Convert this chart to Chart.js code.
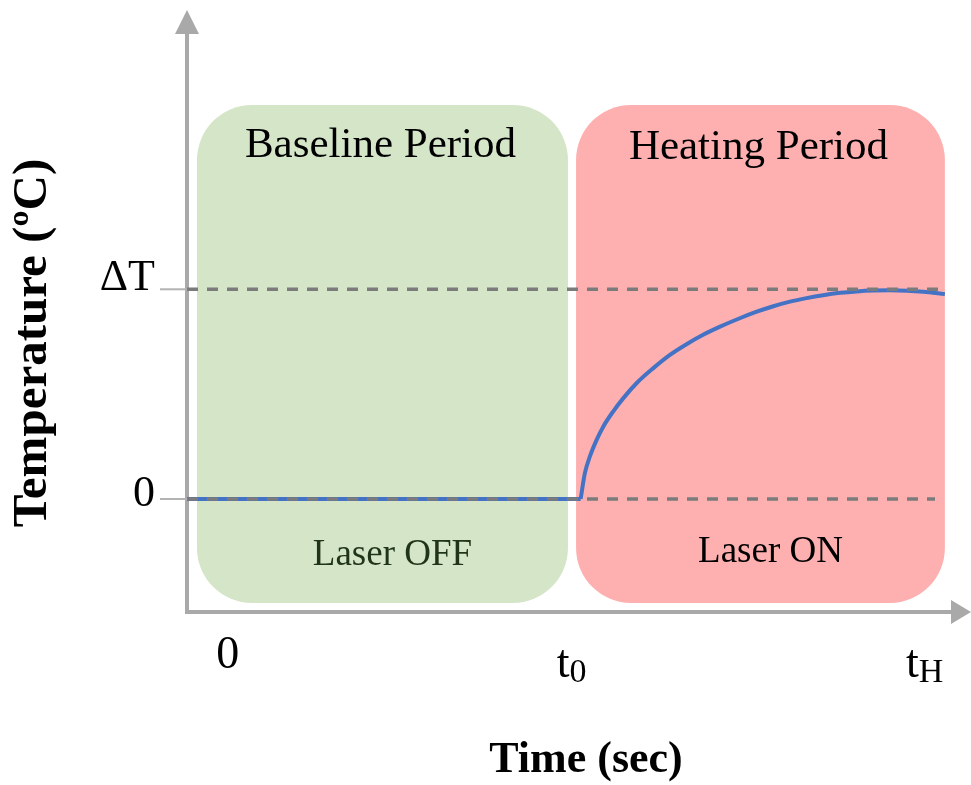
<!DOCTYPE html>
<html>
<head>
<meta charset="utf-8">
<script src="https://cdn.jsdelivr.net/npm/chart.js@4/dist/chart.umd.min.js"></script>
<style>
  body { margin: 0; background: #fff; }
  canvas { display: block; }
</style>
</head>
<body>
<canvas id="chart" width="971" height="785"></canvas>
<script>
'use strict';

// time axis is schematic: 0, t0 = 10, tH = 20
const xTickValues = [0, 10, 20];
const xTickMain = ['0', 't', 't'];
const xTickSub = ['', '0', 'H'];
const yTickValues = [0, 1];
const yTickLabels = ['0', '\u0394T'];

// flat temperature while the laser is off
const baselineTime = [-1.153, 10];
const baselineTemp = [0, 0];
// rise once the laser is on
const heatingTime = [10, 10.12, 10.26, 10.45, 10.64, 10.92, 11.21, 11.59, 12.06, 12.53, 13.00, 13.47, 13.95,
    14.51, 14.99, 15.46, 15.93, 16.40, 16.87, 17.35, 17.82, 18.29, 18.76, 19.24, 19.71, 20.32];
const heatingTemp = [0, 0.123, 0.202, 0.281, 0.345, 0.417, 0.481, 0.553, 0.624, 0.687, 0.738, 0.783, 0.822,
    0.862, 0.893, 0.919, 0.941, 0.958, 0.972, 0.983, 0.990, 0.994, 0.995, 0.993, 0.988, 0.977];

// reference levels (dashed)
const refLevels = [0, 1];
const refEnds = [20.04, 20.32];

const periodNames = ['Baseline Period', 'Heating Period'];
const periodNotes = ['Laser OFF', 'Laser ON'];
const periodFrom = [-0.87, 9.87];
const periodTo = [9.64, 20.32];

function toPoints(xs, ys) {
    return xs.map((x, i) => ({ x: x, y: ys[i] }));
}

const SERIF = '"Liberation Serif", "DejaVu Serif", serif';

const schematicPlugin = {
    id: 'schematic',
    beforeDatasetsDraw(chart) {
        const ctx = chart.ctx;
        const xs = chart.scales.x, ys = chart.scales.y;
        const area = chart.chartArea;
        const fills = ['#d5e5c7', '#feb0b0'];
        ctx.save();
        // period boxes
        periodFrom.forEach((from, i) => {
            const x1 = xs.getPixelForValue(from);
            const x2 = xs.getPixelForValue(periodTo[i]);
            const y1 = ys.getPixelForValue(1.879);
            const y2 = ys.getPixelForValue(-0.496);
            ctx.fillStyle = fills[i];
            ctx.beginPath();
            ctx.roundRect(x1, y1, x2 - x1, y2 - y1, 55);
            ctx.fill();
        });
        // axes with arrow heads
        ctx.strokeStyle = '#a9a9a9';
        ctx.fillStyle = '#a9a9a9';
        ctx.lineWidth = 4;
        ctx.beginPath();
        ctx.moveTo(area.left, area.top + 22);
        ctx.lineTo(area.left, area.bottom);
        ctx.lineTo(area.right - 18, area.bottom);
        ctx.stroke();
        ctx.beginPath();
        ctx.moveTo(area.left, area.top);
        ctx.lineTo(area.left - 12, area.top + 24);
        ctx.lineTo(area.left + 12, area.top + 24);
        ctx.closePath();
        ctx.fill();
        ctx.beginPath();
        ctx.moveTo(area.right, area.bottom);
        ctx.lineTo(area.right - 20, area.bottom - 12);
        ctx.lineTo(area.right - 20, area.bottom + 12);
        ctx.closePath();
        ctx.fill();
        // small tick marks on the y axis
        ctx.lineWidth = 2;
        ctx.strokeStyle = '#b3b3b3';
        yTickValues.forEach(v => {
            const y = ys.getPixelForValue(v);
            ctx.beginPath();
            ctx.moveTo(area.left - 27, y);
            ctx.lineTo(area.left, y);
            ctx.stroke();
        });
        ctx.restore();
    },
    afterDraw(chart) {
        const ctx = chart.ctx;
        const xs = chart.scales.x, ys = chart.scales.y;
        const area = chart.chartArea;
        ctx.save();
        ctx.textAlign = 'center';
        ctx.textBaseline = 'alphabetic';
        // period titles and notes
        periodNames.forEach((name, i) => {
            const cx = (xs.getPixelForValue(periodFrom[i]) + xs.getPixelForValue(periodTo[i])) / 2;
            ctx.fillStyle = '#000';
            ctx.font = '43px ' + SERIF;
            ctx.fillText(name, cx - 2, 157 + i * 2);
            ctx.fillStyle = i === 0 ? '#1f3419' : '#000';
            ctx.font = '37px ' + SERIF;
            ctx.fillText(periodNotes[i], cx + 10, 565 - i * 3);
        });
        // y tick labels
        ctx.fillStyle = '#000';
        ctx.textAlign = 'right';
        ctx.font = '44px ' + SERIF;
        yTickValues.forEach((v, i) => {
            const y = ys.getPixelForValue(v);
            ctx.fillText(yTickLabels[i], area.left - 32, y + (v === 0 ? 7 : 1));
        });
        // x tick labels with subscripts
        ctx.textAlign = 'left';
        xTickValues.forEach((v, i) => {
            const px = xs.getPixelForValue(v);
            ctx.font = '46px ' + SERIF;
            const wMain = ctx.measureText(xTickMain[i]).width;
            ctx.font = '34px ' + SERIF;
            const wSub = ctx.measureText(xTickSub[i]).width;
            const left = xTickSub[i] ? px - 9 - (wMain + wSub) / 2 : px - wMain / 2;
            ctx.font = '46px ' + SERIF;
            ctx.fillText(xTickMain[i], left, xTickSub[i] ? 677 : 668);
            if (xTickSub[i]) {
                ctx.font = '34px ' + SERIF;
                ctx.fillText(xTickSub[i], left + wMain, 682);
            }
        });
        // axis titles
        ctx.textAlign = 'center';
        ctx.font = 'bold 44px ' + SERIF;
        ctx.fillText('Time (sec)', 586, 772);
        ctx.font = 'bold 49px ' + SERIF;
        ctx.translate(46, 343);
        ctx.rotate(-Math.PI / 2);
        ctx.fillText('Temperature (\u00baC)', 0, 0);
        ctx.restore();
    }
};

new Chart(document.getElementById('chart'), {
    type: 'line',
    data: {
        datasets: [
            {
                label: 'Reference 0',
                data: [{ x: baselineTime[0], y: refLevels[0] }, { x: refEnds[0], y: refLevels[0] }],
                borderColor: '#7b7b7b',
                borderWidth: 3.5,
                borderDash: [11, 9],
                pointRadius: 0,
                order: 0
            },
            {
                label: 'Reference \u0394T',
                data: [{ x: baselineTime[0], y: refLevels[1] }, { x: refEnds[1], y: refLevels[1] }],
                borderColor: '#7b7b7b',
                borderWidth: 3.5,
                borderDash: [11, 9],
                pointRadius: 0,
                order: 0
            },
            {
                label: 'Baseline',
                data: toPoints(baselineTime, baselineTemp),
                borderColor: '#4472c4',
                borderWidth: 4,
                pointRadius: 0,
                order: 1
            },
            {
                label: 'Heating',
                data: toPoints(heatingTime, heatingTemp),
                borderColor: '#4472c4',
                borderWidth: 4,
                pointRadius: 0,
                cubicInterpolationMode: 'monotone',
                order: 1
            }
        ]
    },
    options: {
        responsive: false,
        devicePixelRatio: 1,
        animation: false,
        layout: { padding: { left: 187, right: 0, top: 10, bottom: 173 } },
        plugins: { legend: { display: false }, tooltip: { enabled: false } },
        scales: {
            x: { type: 'linear', min: -1.153, max: 21.06, display: false },
            y: { type: 'linear', min: -0.539, max: 2.332, display: false }
        }
    },
    plugins: [schematicPlugin]
});
</script>
</body>
</html>
